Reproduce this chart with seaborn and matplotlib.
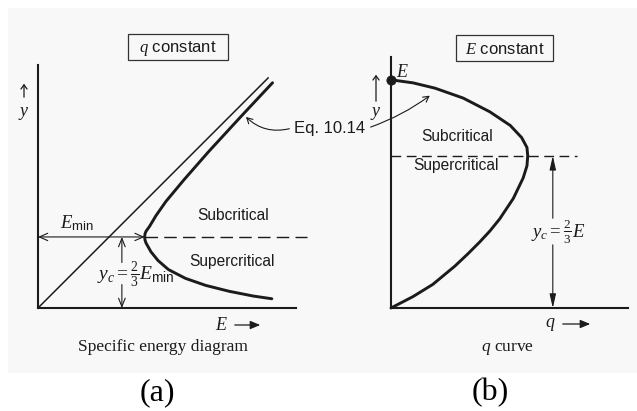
import matplotlib
matplotlib.use("Agg")
import matplotlib.pyplot as plt
from matplotlib.patches import Rectangle, FancyArrowPatch
import seaborn as sns

# ---- (a) specific energy E against depth y, discharge q held constant ----
energy_upper = [1.50, 1.506, 1.52, 1.57, 1.66, 1.80, 2.05, 2.40, 2.86, 3.30]
depth_upper = [1.00, 1.045, 1.08, 1.15, 1.30, 1.50, 1.80, 2.20, 2.70, 3.17]
energy_lower = [1.506, 1.52, 1.59, 1.69, 1.835, 2.075, 2.36, 2.695, 3.03, 3.29]
depth_lower = [0.955, 0.914, 0.79, 0.667, 0.541, 0.417, 0.318, 0.234, 0.168, 0.13]
diagonal_end = 3.24          # asymptote y = E
E_min = 1.5
y_c_a = 1.0                  # y_c = 2/3 E_min

# ---- (b) discharge q against depth y, energy E held constant ----
q_values = [0.0, 0.29, 0.58, 0.95, 1.30, 1.57, 1.72, 1.79, 1.80,
            1.79, 1.74, 1.61, 1.43, 1.30, 1.17, 1.01, 0.84, 0.55, 0.29, 0.0]
depth_b = [3.0, 2.96, 2.89, 2.76, 2.58, 2.40, 2.24, 2.11, 2.00,
           1.87, 1.71, 1.44, 1.17, 1.01, 0.87, 0.71, 0.55, 0.31, 0.15, 0.0]
E_const = 3.0
y_c_b = 2.0                  # y_c = 2/3 E

sns.set_theme(style="white")
plt.rcParams["font.family"] = ["Liberation Sans", "DejaVu Sans"]
plt.rcParams["mathtext.fontset"] = "custom"
plt.rcParams["mathtext.it"] = "Liberation Serif:italic"
plt.rcParams["mathtext.rm"] = "Liberation Serif"
plt.rcParams["mathtext.sf"] = "Liberation Sans"

W, H = 637, 411
ink = "#1b1b1b"
fig = plt.figure(figsize=(W / 100, H / 100), dpi=100)
fig.patch.set_facecolor("white")


def fxy(px, py):
    """pixel position (from top-left) -> figure fraction"""
    return px / W, 1 - py / H


# paper tone of the printed page
fig.patches.append(Rectangle(fxy(8, 373), (W - 8) / W, (373 - 8) / H,
                             transform=fig.transFigure, facecolor="#f8f8f8",
                             edgecolor="none", zorder=-10))


def style_axes(ax):
    ax.set_facecolor("none")
    for side in ("top", "right"):
        ax.spines[side].set_visible(False)
    for side in ("left", "bottom"):
        ax.spines[side].set_linewidth(1.5)
        ax.spines[side].set_color(ink)
    ax.set_xticks([])
    ax.set_yticks([])
    ax.set_xlabel("")
    ax.set_ylabel("")


thin = dict(lw=0.8, color=ink, shrinkA=0, shrinkB=0)
curve_kw = dict(sort=False, estimator=None, color=ink, linewidth=2.1,
                clip_on=False, solid_joinstyle="round", solid_capstyle="round")

# ================= panel (a) =================
ax_a = fig.add_axes([38 / W, 103 / H, 258 / W, 243 / H])
ax_a.set_xlim(0, 3.63)
ax_a.set_ylim(0, 3.42)

energy_a = energy_lower[::-1] + energy_upper
depth_a = depth_lower[::-1] + depth_upper
sns.lineplot(x=energy_a, y=depth_a, ax=ax_a, **curve_kw)
sns.lineplot(x=[0, diagonal_end], y=[0, diagonal_end], sort=False,
             estimator=None, ax=ax_a, color=ink, linewidth=1.1, clip_on=False)

ax_a.plot([E_min, 3.79], [y_c_a, y_c_a], color=ink, lw=1.0,
          dashes=(9, 4.5), clip_on=False)
ax_a.annotate("", xy=(0, y_c_a), xytext=(E_min, y_c_a),
              arrowprops=dict(arrowstyle="<->,head_length=0.5,head_width=0.22", **thin))
ax_a.text(0.55, y_c_a + 0.05, r"$E_{\mathsf{min}}$", fontsize=13.5,
          ha="center", va="bottom", color=ink)

x_yc = 1.18
ax_a.annotate("", xy=(x_yc, y_c_a), xytext=(x_yc, 0.64),
              arrowprops=dict(arrowstyle="->,head_length=0.5,head_width=0.2", **thin))
ax_a.annotate("", xy=(x_yc, 0), xytext=(x_yc, 0.33),
              arrowprops=dict(arrowstyle="->,head_length=0.5,head_width=0.2", **thin))
ax_a.text(1.38, 0.47, r"$y_c = \frac{2}{3}E_{\mathsf{min}}$", fontsize=14,
          ha="center", va="center", color=ink)

ax_a.text(2.75, 1.30, "Subcritical", fontsize=11.2, ha="center", va="center", color=ink)
ax_a.text(2.73, 0.65, "Supercritical", fontsize=11.2, ha="center", va="center", color=ink)
style_axes(ax_a)

# ================= panel (b) =================
ax_b = fig.add_axes([391 / W, 103 / H, 237 / W, 251 / H])
ax_b.set_xlim(0, 3.12)
ax_b.set_ylim(0, 3.30)

sns.lineplot(x=q_values, y=depth_b, ax=ax_b, **curve_kw)
sns.scatterplot(x=[0.0], y=[E_const], ax=ax_b, color=ink, s=45,
                edgecolor=ink, zorder=5, clip_on=False)
ax_b.text(0.15, E_const + 0.1, r"$E$", fontsize=13, ha="center", va="center", color=ink)

ax_b.plot([0, 2.45], [y_c_b, y_c_b], color=ink, lw=1.0, dashes=(7, 4), clip_on=False)
x_yc_b = 2.13
ax_b.annotate("", xy=(x_yc_b, y_c_b), xytext=(x_yc_b, 1.18),
              arrowprops=dict(arrowstyle="-|>,head_length=0.7,head_width=0.16", **thin))
ax_b.annotate("", xy=(x_yc_b, 0), xytext=(x_yc_b, 0.83),
              arrowprops=dict(arrowstyle="-|>,head_length=0.7,head_width=0.16", **thin))
ax_b.text(2.20, 1.0, r"$y_c = \frac{2}{3}E$", fontsize=13.5,
          ha="center", va="center", color=ink)

ax_b.text(0.87, 2.26, "Subcritical", fontsize=11.2, ha="center", va="center", color=ink)
ax_b.text(0.86, 1.88, "Supercritical", fontsize=11.2, ha="center", va="center", color=ink)
style_axes(ax_b)

# ================= shared annotations =================
for (x0, y0, w, h), label in (((128, 34, 100, 26), r"$q$ constant"),
                              ((456, 35, 97, 26), r"$E$ constant")):
    fig.patches.append(Rectangle(fxy(x0, y0 + h), w / W, h / H,
                                 transform=fig.transFigure, facecolor="none",
                                 edgecolor="#333333", lw=0.9))
    fig.text(*fxy(x0 + w / 2, y0 + h / 2 + 1), label, fontsize=12,
             ha="center", va="center", color=ink)

# y-direction markers
for px, y_tail, y_head, y_lab in ((24, 100, 81, 113), (376, 104, 72, 114)):
    fig.add_artist(FancyArrowPatch(
        fxy(px, y_tail), fxy(px, y_head), transform=fig.transFigure,
        arrowstyle="->,head_length=3,head_width=2.2", lw=0.9, color=ink))
    fig.text(*fxy(px, y_lab), r"$y$", fontsize=13, ha="center", va="center", color=ink)

# horizontal axis markers
for lab, px_lab, x0, x1, py in ((r"$E$", 221, 232, 263, 325), (r"$q$", 550, 560, 593, 324)):
    fig.text(*fxy(px_lab, py), lab, fontsize=13, ha="center", va="center", color=ink)
    fig.add_artist(FancyArrowPatch(
        fxy(x0, py), fxy(x1, py), transform=fig.transFigure,
        arrowstyle="-|>,head_length=6,head_width=2.5", lw=0.9, color=ink))

# equation callout pointing at both curves
fig.text(*fxy(330, 129), "Eq. 10.14", fontsize=12, ha="center", va="center", color=ink)
fig.add_artist(FancyArrowPatch(
    fxy(292, 128), fxy(244, 115), transform=fig.transFigure,
    connectionstyle="arc3,rad=-0.3",
    arrowstyle="->,head_length=4,head_width=2.2", lw=0.8, color=ink))
fig.add_artist(FancyArrowPatch(
    fxy(368, 128), fxy(432, 94), transform=fig.transFigure,
    connectionstyle="arc3,rad=0.08",
    arrowstyle="->,head_length=4,head_width=2.2", lw=0.8, color=ink))

# captions
fig.text(*fxy(163, 347), "Specific energy diagram", fontsize=12.5,
         family="Liberation Serif", ha="center", va="center", color=ink)
fig.text(*fxy(508, 349), r"$q$ curve", fontsize=12.5,
         family="Liberation Serif", ha="center", va="center", color=ink)
fig.text(*fxy(157, 393), "(a)", fontsize=23, family="Liberation Serif",
         ha="center", va="center", color="black")
fig.text(*fxy(490, 393), "(b)", fontsize=23, family="Liberation Serif",
         ha="center", va="center", color="black")

fig.savefig("out.png", dpi=100, facecolor="white")
